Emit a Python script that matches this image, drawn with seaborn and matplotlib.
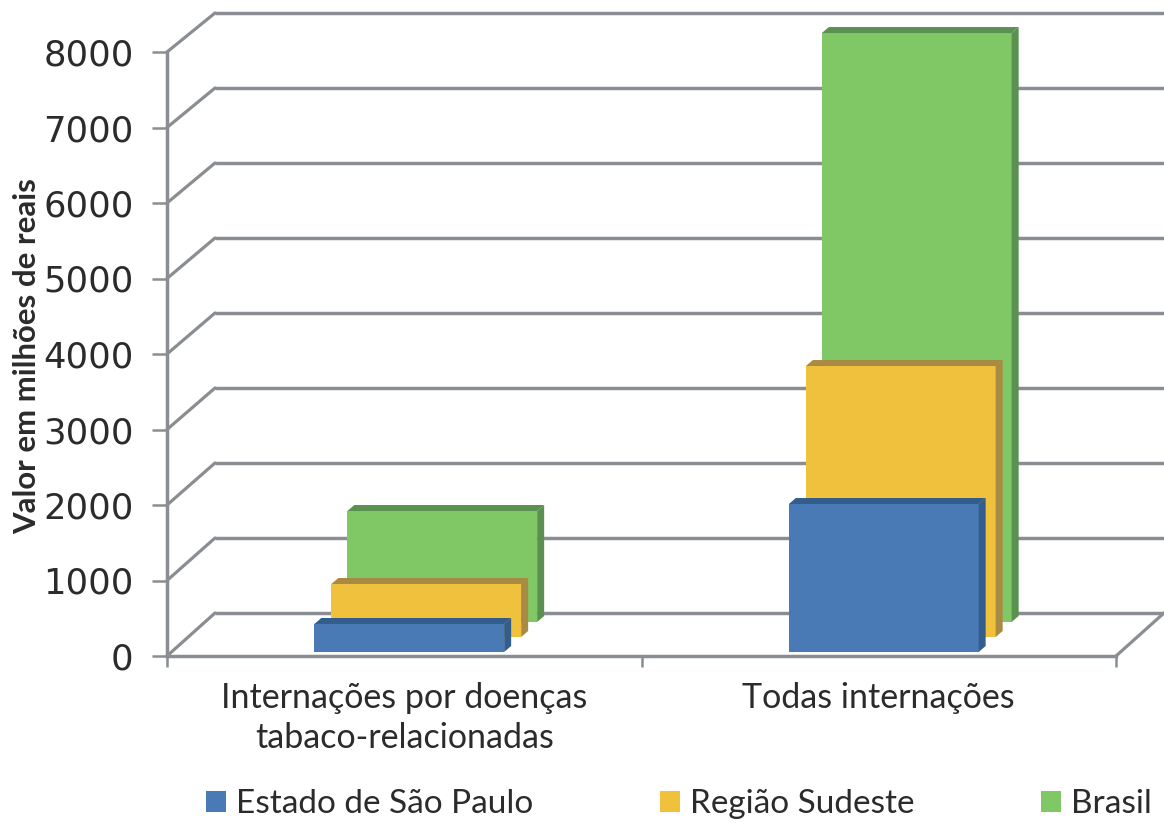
import matplotlib
matplotlib.use('Agg')
import matplotlib.pyplot as plt
import pandas as pd
import seaborn as sns
from matplotlib.patches import ConnectionPatch, Polygon
from matplotlib.transforms import Affine2D, IdentityTransform

# Values
categories = ['Internações por doenças\ntabaco-relacionadas', 'Todas internações']
series_names = ['Estado de São Paulo', 'Região Sudeste', 'Brasil']
sao_paulo = [371, 1960]
sudeste = [702, 3589]
brasil = [1470, 7801]
y_ticks = [0, 1000, 2000, 3000, 4000, 5000, 6000, 7000, 8000]

W, H = 1164, 823
GREY = '#8a8d92'
TEXT = '#2b2b2b'
colors = ['#4a7ab5', '#efc13c', '#80c766']
side_colors = ['#335d8c', '#a98a42', '#5a9150']
# pixel shift of each series into the depth of the fake 3D box
shifts = [(5, 4), (22, 19), (38, 34)]
depth = (7, 6)

df = pd.DataFrame({
    'cat': categories * 3,
    'serie': [s for s in series_names for _ in categories],
    'valor': sao_paulo + sudeste + brasil,
})

sns.set_theme(style='white')
plt.rcParams['font.family'] = ['Lato', 'DejaVu Sans']

fig = plt.figure(figsize=(W / 100, H / 100), dpi=100)

# back wall of the box
ax_wall = fig.add_axes([215 / W, (H - 613) / H, (W - 215) / W, 600 / H])
ax_wall.set_xlim(0, 1)
ax_wall.set_ylim(0, 8000)
ax_wall.axis('off')
ax_wall.hlines(y_ticks, 0, 1, color=GREY, lw=2.5, clip_on=False)

# front plane
ax = fig.add_axes([167 / W, (H - 656) / H, 949 / W, 604 / H])
ax.patch.set_alpha(0)
sns.barplot(data=df, x='cat', y='valor', hue='serie', hue_order=series_names,
            palette=colors, saturation=1, dodge=False, width=0.4, linewidth=0, ax=ax)
ax.set_xlim(-0.5, 1.5)
ax.set_ylim(0, 8000)

handles, labels = ax.get_legend_handles_labels()
ax.get_legend().remove()

# move the bars back and give them a top and a side
for i, container in enumerate(ax.containers):
    dx, dy = shifts[i]
    for bar in container:
        bar.set_transform(ax.transData + Affine2D().translate(dx, dy))
        bar.set_zorder(5 - i)
        bar.set_clip_on(False)
        bar.set_edgecolor('none')
        x0, x1 = bar.get_x(), bar.get_x() + bar.get_width()
        h = bar.get_height()
        (px0, py0), (px1, py1) = ax.transData.transform([(x0, 0), (x1, h)])
        px0, px1, py0, py1 = px0 + dx, px1 + dx, py0 + dy, py1 + dy
        top = [(px0, py1), (px0 + depth[0], py1 + depth[1]),
               (px1 + depth[0], py1 + depth[1]), (px1, py1)]
        side = [(px1, py0), (px1 + depth[0], py0 + depth[1]),
                (px1 + depth[0], py1 + depth[1]), (px1, py1)]
        for pts in (top, side):
            ax.add_patch(Polygon(pts, closed=True, transform=IdentityTransform(),
                                 fc=side_colors[i], ec='none', zorder=5 - i, clip_on=False))

# diagonal lines from the front plane to the wall
for v in y_ticks:
    fig.add_artist(ConnectionPatch(xyA=(-0.5, v), coordsA=ax.transData,
                                   xyB=(0, v), coordsB=ax_wall.transData,
                                   color=GREY, lw=2.3, shrinkA=0, shrinkB=0))
fig.add_artist(ConnectionPatch(xyA=(1.5, 0), coordsA=ax.transData,
                               xyB=(1, 0), coordsB=ax_wall.transData,
                               color=GREY, lw=2.3, shrinkA=0, shrinkB=0))

sns.despine(ax=ax)
for s in ['left', 'bottom']:
    ax.spines[s].set_color(GREY)
    ax.spines[s].set_linewidth(2.5)

ax.set_yticks(y_ticks)
ax.tick_params(axis='y', left=True, length=11, width=1.8, color=GREY, pad=13,
               labelsize=25.5, labelcolor=TEXT)
for lab in ax.get_yticklabels():
    lab.set_fontfamily('DejaVu Sans')
ax.set_xticks([-0.5, 0.5, 1.5], labels=['', '', ''])
ax.set_xticks([0, 1], labels=categories, minor=True)
ax.tick_params(axis='x', which='major', bottom=True, length=8, width=1.8, color=GREY)
ax.tick_params(axis='x', which='minor', bottom=False, length=0, pad=19,
               labelsize=24.5, labelcolor=TEXT)
for lab in ax.get_xticklabels(minor=True):
    lab.set_linespacing(1.3)
ax.set_xlabel('')
ax.set_ylabel('')
fig.text(27 / W, (H - 356) / H, 'Valor em milhões de reais', rotation=90,
         ha='center', va='center', fontsize=22.4, fontweight='bold', color=TEXT)

fig.legend(handles, labels, ncol=3, frameon=False, loc='center left',
           bbox_to_anchor=(206 / W, (H - 804) / H), fontsize=24,
           labelcolor=TEXT, handlelength=0.6, handleheight=0.6,
           handletextpad=0.3, columnspacing=3.8, borderpad=0, borderaxespad=0)

fig.savefig('out.png', dpi=100)
